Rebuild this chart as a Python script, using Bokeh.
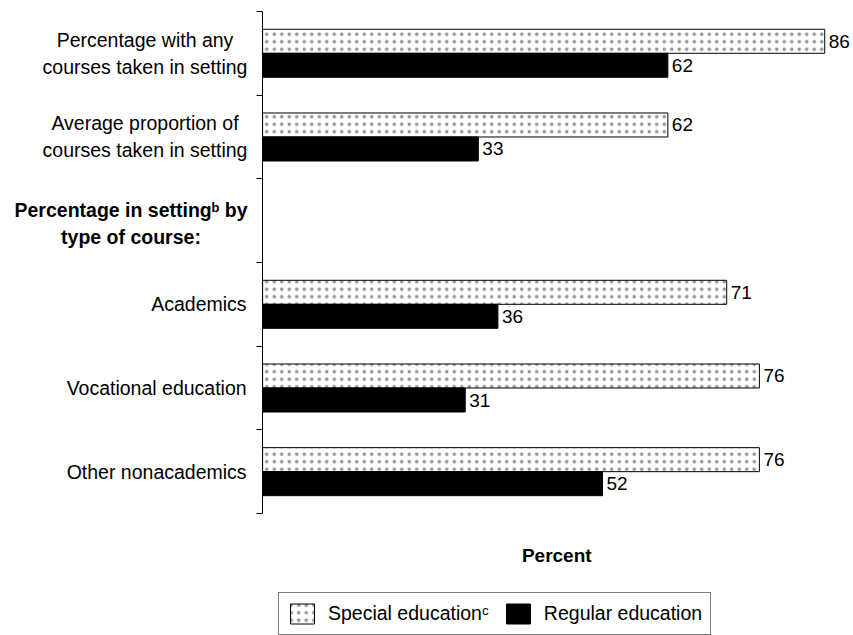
from bokeh.plotting import figure
from bokeh.models import Range1d, FixedTicker, Legend, LegendItem, ColumnDataSource
from bokeh.core.properties import value
from bokeh.embed import file_html
from bokeh.resources import INLINE

# ---- data ----
categories = [
    "Percentage with any\ncourses taken in setting",
    "Average proportion of\ncourses taken in setting",
    "Percentage in setting\u1d47 by\ntype of course:",
    "Academics",
    "Vocational education",
    "Other nonacademics",
]
is_header = [False, False, True, False, False, False]
special = [86, 62, None, 71, 76, 76]
regular = [62, 33, None, 36, 31, 52]
series_names = ["Special education\u1d9c", "Regular education"]
axis_title = "Percent"
axis_title_pos = (45, -0.5)   # data position of the "Percent" title

# ---- styling ----
FONT = "Liberation Sans"
n = len(categories)
BAR_H = 0.287
X_START, X_END = -40.1, 90.4
Y_START, Y_END = -1.458, n + 0.131
# horizontal offset (px) of the centre of each multi-line label block from the axis
BLOCK_OFFSETS = {0: -117.6, 1: -117.6, 2: -131.6}

centers = [n - i - 0.5 for i in range(n)]

def build(vals, shift):
    ys, xs, labels = [], [], []
    for c, v in zip(centers, vals):
        if v is None:
            continue
        ys.append(c + shift)
        xs.append(v)
        labels.append(str(v))
    return ColumnDataSource(dict(y=ys, x=xs, label=labels))

src_sp = build(special, BAR_H / 2)
src_rg = build(regular, -BAR_H / 2)

p = figure(width=853, height=635,
           x_range=Range1d(X_START, X_END), y_range=Range1d(Y_START, Y_END),
           output_backend="svg", toolbar_location=None, min_border=0)
p.grid.visible = False
p.outline_line_color = None
p.background_fill_color = "white"
p.xaxis.visible = False

# y axis drawn at x = 0 with boundary ticks only
yax = p.yaxis[0]
yax.fixed_location = 0
yax.bounds = (0, n)
yax.ticker = FixedTicker(ticks=[], minor_ticks=list(range(n + 1)))
yax.axis_line_color = "black"
yax.axis_line_width = 1
yax.major_tick_line_color = None
yax.minor_tick_line_color = "black"
yax.minor_tick_out = 6
yax.minor_tick_in = 0
yax.major_label_text_font_size = "0px"

r_sp = p.hbar(y="y", left=0, right="x", height=BAR_H, source=src_sp,
              fill_color="white", line_color="black", line_width=1,
              hatch_pattern="dot", hatch_color="#999", hatch_scale=7.5, hatch_weight=0.3)
r_rg = p.hbar(y="y", left=0, right="x", height=BAR_H, source=src_rg,
              fill_color="black", line_color="black", line_width=1)

for src in (src_sp, src_rg):
    p.text(x="x", y="y", text="label", source=src, x_offset=4,
           text_baseline="middle", text_align="left",
           text_font=value(FONT), text_font_size="19px", text_color="black")

# multi-line labels (lines centred within the block)
multi = [i for i, c in enumerate(categories) if "\n" in c]
single = [i for i, c in enumerate(categories) if "\n" not in c]
multi_src = ColumnDataSource(dict(
    x=[0] * len(multi), y=[centers[i] for i in multi],
    text=[categories[i] for i in multi],
    style=["bold" if is_header[i] else "normal" for i in multi],
    xoff=[BLOCK_OFFSETS[i] for i in multi],
    yoff=[3 if is_header[i] else 0 for i in multi],
))
p.text(x="x", y="y", text="text", source=multi_src, x_offset="xoff", y_offset="yoff",
       text_align="center", text_baseline="middle",
       text_font=value(FONT), text_font_size="19.5px", text_font_style="style",
       text_color="black", text_line_height=1.23)

single_src = ColumnDataSource(dict(
    x=[0] * len(single), y=[centers[i] for i in single],
    text=[categories[i] for i in single],
    style=["bold" if is_header[i] else "normal" for i in single],
))
p.text(x="x", y="y", text="text", source=single_src, x_offset=-16,
       text_align="right", text_baseline="middle",
       text_font=value(FONT), text_font_size="19.5px", text_font_style="style",
       text_color="black")

p.text(x=[axis_title_pos[0]], y=[axis_title_pos[1]], text=[axis_title],
       text_align="center", text_baseline="middle",
       text_font=value(FONT), text_font_size="19px", text_font_style="bold",
       text_color="black")

legend = Legend(items=[LegendItem(label=series_names[0], renderers=[r_sp]),
                       LegendItem(label=series_names[1], renderers=[r_rg])],
                orientation="horizontal", location=(278, 0), margin=0,
                padding=8, spacing=14, glyph_width=30, glyph_height=25,
                label_standoff=11, label_text_font=FONT, label_text_font_size="19.5px",
                label_text_color="black",
                border_line_color="black", border_line_width=1,
                background_fill_color="white", background_fill_alpha=1)
p.add_layout(legend, "center")

open("out.html", "w").write(file_html(p, INLINE))
